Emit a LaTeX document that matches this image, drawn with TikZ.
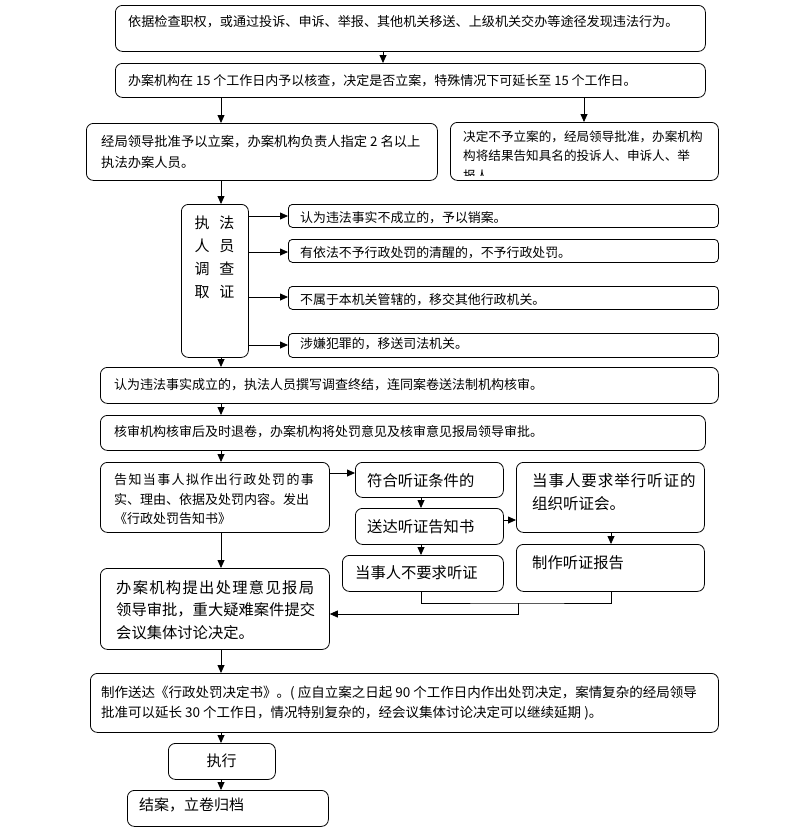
\documentclass[tikz,border=0pt]{standalone}
\usepackage{fontspec}
\setmainfont{Noto Sans CJK SC}
\usetikzlibrary{arrows.meta,calc}
\newcommand{\fs}[2]{\fontsize{#1}{#2}\selectfont}
\begin{document}
\begin{tikzpicture}[x=1pt,y=-1pt,
  box/.style={draw,line width=0.8pt,rounded corners=7pt,anchor=north west,inner sep=0pt},
  sbox/.style={box,rounded corners=4pt},
  txt/.style={inner sep=0pt,anchor=north west,align=left},
  arr/.style={line width=0.8pt,-{Triangle[length=8pt,width=7pt]}},
  ln/.style={line width=0.8pt}]
\useasboundingbox (0,0) rectangle (795,835);
% boxes
\newcommand{\bx}[6][box]{\node[#1,minimum width=#4-#2,minimum height=#5-#3] (#6) at (#2,#3) {};}
\bx{115}{5}{705}{51}{b1}
\bx{115}{63}{705}{97}{b2}
\bx{86}{123}{437}{180}{b3}
\bx{450}{122}{718}{180}{b4}
\bx{181}{204}{248}{357}{bz}
\bx[sbox]{288}{204}{718}{227}{bA}
\bx[sbox]{288}{239}{718}{262}{bB}
\bx[sbox]{288}{286}{718}{309}{bC}
\bx[sbox]{288}{333}{718}{357}{bD}
\bx{100}{367}{718}{403}{b5}
\bx{100}{415}{705}{450}{b6}
\bx{100}{462}{329}{532}{b7}
\bx{355}{462}{503}{497}{bF}
\bx{355}{508}{503}{544}{bS}
\bx{342}{555}{503}{591}{bN}
\bx{516}{462}{704}{532}{bY}
\bx{516}{544}{704}{591}{bR}
\bx{100}{568}{329}{649}{b8}
\bx{90}{673}{718}{732}{b9}
\bx{168}{743}{275}{779}{bE}
\bx{127}{790}{328}{826}{bJ}
% texts
\node[txt,font=\fs{13.1}{20}] (t1) at (128,15.5) {依据检查职权，或通过投诉、申诉、举报、其他机关移送、上级机关交办等途径发现违法行为。};
\node[txt,font=\fs{13}{20}] (t2) at (128,74.5) {办案机构在 15 个工作日内予以核查，决定是否立案，特殊情况下可延长至 15 个工作日。};
\node[txt,font=\fs{13.3}{20.5}] (t3) at (101,135.5) {经局领导批准予以立案，办案机构负责人指定 2 名以上\\执法办案人员。};
\begin{scope}
\clip (450,122) rectangle (718,175.5);
\node[txt,font=\fs{12.6}{19.5}] (t4) at (463,130.5) {决定不予立案的，经局领导批准，办案机构\\构将结果告知具名的投诉人、申诉人、举\\报人。};
\end{scope}
\node[inner sep=0pt,anchor=north,align=center,font=\fs{15}{23}] (tz) at (214.5,215.5) {执\hspace{10pt}法\\人\hspace{10pt}员\\调\hspace{10pt}查\\取\hspace{10pt}证};
\node[txt,font=\fs{12.9}{20}] (tA) at (300,211.5) {认为违法事实不成立的，予以销案。};
\node[txt,font=\fs{12.9}{20}] (tB) at (300,246.5) {有依法不予行政处罚的清醒的，不予行政处罚。};
\node[txt,font=\fs{12.9}{20}] (tC) at (300,293.5) {不属于本机关管辖的，移交其他行政机关。};
\node[txt,font=\fs{12.9}{20}] (tD) at (300,337.5) {涉嫌犯罪的，移送司法机关。};
\node[txt,font=\fs{13}{20}] (t5) at (114,378.5) {认为违法事实成立的，执法人员撰写调查终结，连同案卷送法制机构核审。};
\node[txt,font=\fs{13}{20}] (t6) at (114,425.5) {核审机构核审后及时退卷，办案机构将处罚意见及核审意见报局领导审批。};
\node[txt,font=\fs{13}{19.5}] (t7) at (114,473.5) {{\addfontfeature{LetterSpace=10.5}告知当事人拟作出行政处罚的事}\\实、理由、依据及处罚内容。发出\\《行政处罚告知书》};
\node[txt,font=\fs{15.3}{22.5}] (t8) at (116,580.3) {{\addfontfeature{LetterSpace=8.5}办案机构提出处理意见报局}\\领导审批，重大疑难案件提交\\会议集体讨论决定。};
\node[txt,font=\fs{15.3}{22}] (tF) at (367,473.3) {符合听证条件的};
\node[txt,font=\fs{15.3}{22}] (tS) at (367,519.3) {送达听证告知书};
\node[txt,font=\fs{15.3}{22}] (tN) at (355,565.3) {当事人不要求听证};
\node[txt,font=\fs{15.5}{23}] (tY) at (532,473.2) {{\addfontfeature{LetterSpace=6}当事人要求举行听证的}\\组织听证会。};
\node[txt,font=\fs{15.3}{22}] (tR) at (532,555.3) {制作听证报告};
\node[txt,font=\fs{13.5}{20}] (t9) at (101,686.2) {制作送达《行政处罚决定书》。( 应自立案之日起 90 个工作日内作出处罚决定，案情复杂的经局领导\\批准可以延长 30 个工作日，情况特别复杂的，经会议集体讨论决定可以继续延期 )。};
\node[inner sep=0pt,font=\fs{15}{20}] (tE) at (221.5,761) {执行};
\node[txt,font=\fs{15}{20}] (tJ) at (139,797.5) {结案，立卷归档};
% guide coordinates
\coordinate (xa) at (383,0);
\coordinate (xl) at (221,0);
\coordinate (xr) at (584,0);
\coordinate (xm) at (421,0);
\coordinate (xy) at (611,0);
% arrows
\draw[arr] (b1.south -| xa) -- (b2.north -| xa);
\draw[arr] (b2.south -| xl) -- (b3.north -| xl);
\draw[arr] (b2.south -| xr) -- (b4.north -| xr);
\draw[arr] (b3.south -| xl) -- (bz.north -| xl);
\draw[arr] (bz.east |- 0,216) -- (bA.west |- 0,216);
\draw[arr] (bz.east |- 0,252) -- (bB.west |- 0,252);
\draw[arr] (bz.east |- 0,297) -- (bC.west |- 0,297);
\draw[arr] (bz.east |- 0,345) -- (bD.west |- 0,345);
\draw[arr] (bz.south -| xl) -- (b5.north -| xl);
\draw[arr] (b5.south -| xl) -- (b6.north -| xl);
\draw[arr] (b6.south -| xl) -- (b7.north -| xl);
\draw[arr] (b7.east |- 0,473) -- (bF.west |- 0,473);
\draw[arr] (bF.south -| xm) -- (bS.north -| xm);
\draw[arr] (bS.east |- 0,520) -- (bY.west |- 0,520);
\draw[arr] (bS.south -| xm) -- (bN.north -| xm);
\draw[arr] (bY.south -| xy) -- (bR.north -| xy);
\coordinate (jn) at (518,603);
\draw[ln] (bN.south -| xm) |- (jn) -| (bR.south -| xy);
\draw[arr] (jn) |- (b8.east |- 0,614);
\draw[arr] (b7.south -| xl) -- (b8.north -| xl);
\draw[arr] (b8.south -| xl) -- (b9.north -| xl);
\draw[arr] (b9.south -| xl) -- (bE.north -| xl);
\draw[arr] (bE.south -| xl) -- (bJ.north -| xl);
\end{tikzpicture}
\end{document}
